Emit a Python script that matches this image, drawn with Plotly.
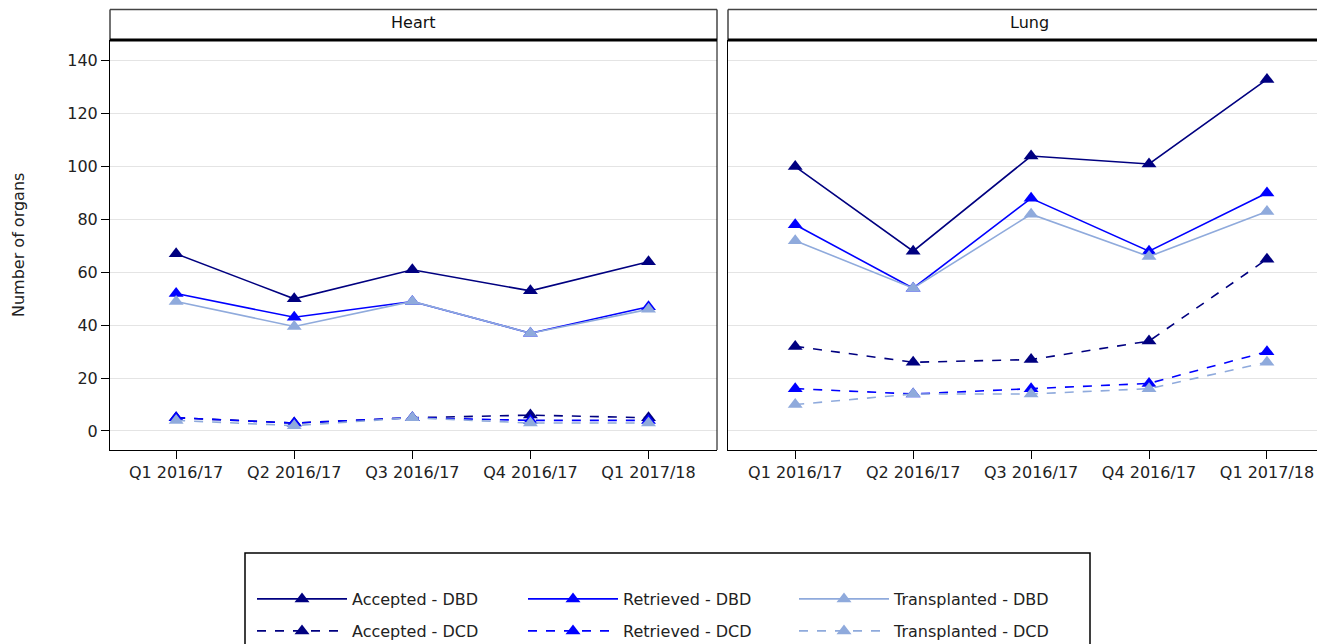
import plotly.graph_objects as go

# Quarters shown on the x axis
quarters = ["Q1 2016/17", "Q2 2016/17", "Q3 2016/17", "Q4 2016/17", "Q1 2017/18"]

# Heart organs by quarter
heart_accepted_dbd = [67, 50, 61, 53, 64]
heart_retrieved_dbd = [52, 43, 49, 37, 47]
heart_transplanted_dbd = [49, 39.5, 49, 37, 46]
heart_accepted_dcd = [5, 3, 5, 6, 5]
heart_retrieved_dcd = [5, 3, 5, 4, 4]
heart_transplanted_dcd = [4, 2, 5, 3, 3]

# Lung organs by quarter
lung_accepted_dbd = [100, 68, 104, 101, 133]
lung_retrieved_dbd = [78, 54, 88, 68, 90]
lung_transplanted_dbd = [72, 54, 82, 66, 83]
lung_accepted_dcd = [32, 26, 27, 34, 65]
lung_retrieved_dcd = [16, 14, 16, 18, 30]
lung_transplanted_dcd = [10, 14, 14, 16, 26]

panels = ["Heart", "Lung"]
series_names = [
    "Accepted - DBD", "Retrieved - DBD", "Transplanted - DBD",
    "Accepted - DCD", "Retrieved - DCD", "Transplanted - DCD",
]
heart_values = [heart_accepted_dbd, heart_retrieved_dbd, heart_transplanted_dbd,
                heart_accepted_dcd, heart_retrieved_dcd, heart_transplanted_dcd]
lung_values = [lung_accepted_dbd, lung_retrieved_dbd, lung_transplanted_dbd,
               lung_accepted_dcd, lung_retrieved_dcd, lung_transplanted_dcd]

COLORS = ["#000080", "#0000FF", "#8FAADC"] * 2
DASHES = ["solid"] * 3 + ["dash"] * 3
FONT = "DejaVu Sans"
W, H = 1325, 644
OFFSET = 8  # page body margin pushes the figure 8px right and down


def px_x(p):
    return (p - OFFSET) / W


def px_y(p):
    return 1 - (p - OFFSET) / H


fig = go.Figure()
for panel_idx, values in enumerate([heart_values, lung_values]):
    axis_suffix = "" if panel_idx == 0 else "2"
    for i, name in enumerate(series_names):
        fig.add_trace(
            go.Scatter(
                x=quarters,
                y=values[i],
                name=name,
                mode="lines+markers",
                line=dict(color=COLORS[i], width=1.6, dash=DASHES[i]),
                marker=dict(symbol="triangle-up", size=13, color=COLORS[i]),
                xaxis="x" + axis_suffix,
                yaxis="y" + axis_suffix,
                legendgroup=name,
                showlegend=panel_idx == 0,
                legend="legend" if i < 3 else "legend2",
            )
        )

axis_common = dict(
    showline=True,
    linecolor="black",
    linewidth=1,
    ticks="outside",
    ticklen=8,
    tickcolor="black",
    tickfont=dict(family=FONT, size=16, color="#222"),
    zeroline=False,
)
plot_top, plot_bottom = px_y(40), px_y(450)
y_range = [-7.2, 147.9]

legend_common = dict(
    orientation="h", x=px_x(252), xanchor="left", yanchor="middle",
    font=dict(family=FONT, size=16, color="#222"),
    itemwidth=90, entrywidth=166, entrywidthmode="pixels",
    bgcolor="rgba(0,0,0,0)", itemclick=False,
)

fig.update_layout(
    width=W,
    height=H,
    margin=dict(l=0, r=0, t=0, b=0),
    plot_bgcolor="white",
    paper_bgcolor="white",
    font=dict(family=FONT, color="#222"),
    xaxis=dict(domain=[px_x(110), px_x(717)], range=[-0.56, 4.58], type="category",
               showgrid=False, mirror=False, **axis_common),
    xaxis2=dict(domain=[px_x(728), 1.0], range=[-0.57, 4.56], type="category",
                showgrid=False, mirror=False, **axis_common),
    yaxis=dict(domain=[plot_bottom, plot_top], range=y_range, tickvals=list(range(0, 141, 20)),
               showgrid=True, gridcolor="#E4E4E4", gridwidth=1, anchor="x", **axis_common),
    yaxis2=dict(domain=[plot_bottom, plot_top], range=y_range, tickvals=list(range(0, 141, 20)),
                showgrid=True, gridcolor="#E4E4E4", gridwidth=1, anchor="x2",
                showticklabels=False, showline=True, linecolor="black", linewidth=1,
                ticks="", zeroline=False),
    showlegend=True,
    legend=dict(y=px_y(599), **legend_common),
    legend2=dict(y=px_y(631), **legend_common),
)

# Right edge line of the Heart panel
fig.add_shape(type="line", xref="paper", yref="paper",
              x0=px_x(717), x1=px_x(717), y0=plot_bottom, y1=plot_top,
              line=dict(color="black", width=1))

# Panel header strips
strip_top = 9.5
strips = [(110, 717, True), (728, 1340, False)]
for (left, right, closed), label in zip(strips, panels):
    fig.add_shape(type="line", xref="paper", yref="paper",
                  x0=px_x(left), x1=px_x(right), y0=px_y(strip_top), y1=px_y(strip_top),
                  line=dict(color="#444", width=1.5))
    fig.add_shape(type="line", xref="paper", yref="paper",
                  x0=px_x(left), x1=px_x(left), y0=px_y(strip_top), y1=px_y(40),
                  line=dict(color="#444", width=1.5))
    if closed:
        fig.add_shape(type="line", xref="paper", yref="paper",
                      x0=px_x(right), x1=px_x(right), y0=px_y(strip_top), y1=px_y(40),
                      line=dict(color="#444", width=1.5))
    fig.add_shape(type="line", xref="paper", yref="paper",
                  x0=px_x(left), x1=px_x(right), y0=px_y(40), y1=px_y(40),
                  line=dict(color="black", width=3))
    center = (left + right) / 2 if closed else 1029
    fig.add_annotation(x=px_x(center), y=px_y(23), xref="paper", yref="paper",
                       xanchor="center", yanchor="middle", text=label,
                       showarrow=False, font=dict(family=FONT, size=16, color="#111"))

# Legend border box
fig.add_shape(type="rect", xref="paper", yref="paper",
              x0=px_x(245), x1=px_x(1090), y0=px_y(670), y1=px_y(553),
              line=dict(color="black", width=1.5))

# Y axis title
fig.add_annotation(x=px_x(18), y=(plot_top + plot_bottom) / 2, xref="paper", yref="paper",
                   xanchor="center", yanchor="middle",
                   text="Number of organs", textangle=-90, showarrow=False,
                   font=dict(family=FONT, size=16, color="#222"))

fig.write_html("out.html")
